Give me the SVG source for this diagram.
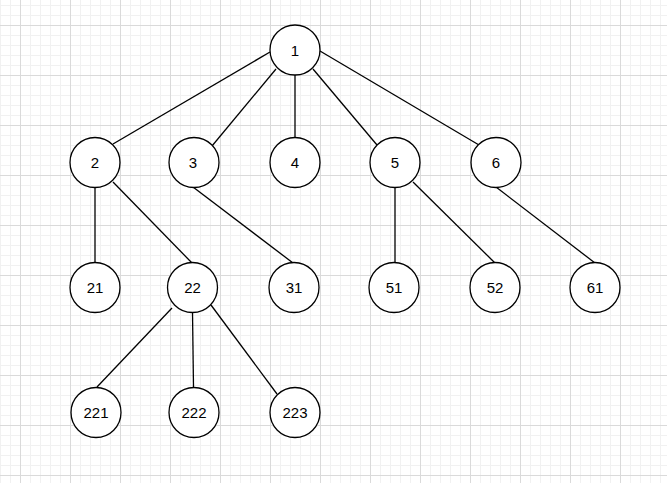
<svg xmlns="http://www.w3.org/2000/svg" width="667" height="483" viewBox="0 0 667 483">
<style>
.n circle{fill:#fff;stroke:#000;stroke-width:1.3}
.n text{font-family:"Liberation Sans",Arial,sans-serif;font-size:15px;fill:#000;text-anchor:middle}
#edges line{stroke:#000;stroke-width:1.3;fill:none}
</style>
<defs>
<pattern id="grid" patternUnits="userSpaceOnUse" x="20" y="25" width="50" height="50">
<path d="M10.5 0V50M20.5 0V50M30.5 0V50M40.5 0V50M0 10.5H50M0 20.5H50M0 30.5H50M0 40.5H50" stroke="#f1f1f1" stroke-width="1" fill="none"/>
<path d="M0.5 0V50M0 0.5H50" stroke="#dadada" stroke-width="1" fill="none"/>
</pattern>
</defs>
<rect width="667" height="483" fill="#fff"/>
<rect width="667" height="483" fill="url(#grid)"/>
<g id="edges">
<line x1="270" y1="52" x2="113" y2="144"/>
<line x1="276" y1="69" x2="212" y2="146"/>
<line x1="295" y1="75" x2="295" y2="137.5"/>
<line x1="313" y1="69" x2="377" y2="145"/>
<line x1="320" y1="51" x2="479" y2="145"/>
<line x1="95" y1="187.5" x2="95" y2="262.5"/>
<line x1="113" y1="182" x2="192" y2="263"/>
<line x1="193" y1="187" x2="293" y2="263"/>
<line x1="395" y1="187.5" x2="395" y2="262.5"/>
<line x1="413" y1="182" x2="495" y2="263"/>
<line x1="496" y1="187" x2="595" y2="263"/>
<line x1="172" y1="308" x2="97" y2="387"/>
<line x1="192.5" y1="312.5" x2="193.5" y2="387.5"/>
<line x1="211" y1="305" x2="277" y2="394"/>
</g>
<g id="n1" class="n"><circle cx="295" cy="50" r="25"/><text x="295" y="55.5">1</text></g>
<g id="n2" class="n"><circle cx="95" cy="162.5" r="25"/><text x="95" y="168">2</text></g>
<g id="n3" class="n"><circle cx="194" cy="162.5" r="25"/><text x="193" y="168">3</text></g>
<g id="n4" class="n"><circle cx="295" cy="162.5" r="25"/><text x="295" y="168">4</text></g>
<g id="n5" class="n"><circle cx="395" cy="162.5" r="25"/><text x="395" y="168">5</text></g>
<g id="n6" class="n"><circle cx="496" cy="162.5" r="25"/><text x="496" y="168">6</text></g>
<g id="n21" class="n"><circle cx="95" cy="287.5" r="25"/><text x="95" y="293">21</text></g>
<g id="n22" class="n"><circle cx="192.5" cy="287.5" r="25"/><text x="192.5" y="293">22</text></g>
<g id="n31" class="n"><circle cx="294" cy="287.5" r="25"/><text x="294" y="293">31</text></g>
<g id="n51" class="n"><circle cx="394" cy="287.5" r="25"/><text x="394" y="293">51</text></g>
<g id="n52" class="n"><circle cx="495" cy="287.5" r="25"/><text x="495" y="293">52</text></g>
<g id="n61" class="n"><circle cx="595" cy="287.5" r="25"/><text x="595" y="293">61</text></g>
<g id="n221" class="n"><circle cx="96" cy="412.5" r="25"/><text x="96" y="418">221</text></g>
<g id="n222" class="n"><circle cx="194" cy="412.5" r="25"/><text x="194" y="418">222</text></g>
<g id="n223" class="n"><circle cx="295" cy="412.5" r="25"/><text x="295" y="418">223</text></g>
</svg>
